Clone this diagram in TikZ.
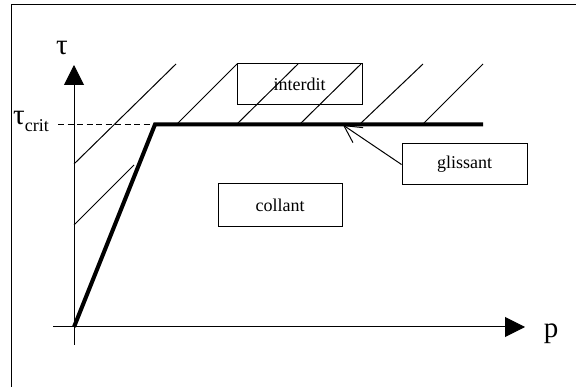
\documentclass[tikz,border=0pt]{standalone}
\usepackage{fontspec}
\setmainfont{Liberation Serif}
\usetikzlibrary{arrows.meta}
\tikzset{
  thin line/.style={line width=1pt},
  label box/.style={draw, line width=1pt, rectangle, inner sep=0pt, font=\fontsize{18}{20}\selectfont},
  axis/.style={line width=1pt, -{Triangle[length=20pt,width=20pt]}},
  big text/.style={font=\fontsize{29}{29}\selectfont, inner sep=0pt},
  law/.style={line width=4pt, line join=miter},
  pointer/.style={line width=1pt, -{Straight Barb[length=17pt,width=18pt,line width=1pt]}}
}
\begin{document}
\begin{tikzpicture}[x=1pt,y=-1pt]
\useasboundingbox (0,0) rectangle (576,387);
% frame (cut at right and bottom)
\draw[thin line] (11,400) -- (11,5) -- (590,5);
% axes
\coordinate (O) at (74,327);
\coordinate (ybot) at (74,345);
\coordinate (ytop) at (74,65);
\coordinate (xleft) at (53,327);
\coordinate (xright) at (525,327);
\draw[axis] (ybot) -- (ytop);
\draw[axis] (xleft) -- (xright);
\node[big text, anchor=base] (tau) at (62,55) {τ};
\node[big text, anchor=base] (p) at (551,338) {p};
% critical stress
\coordinate (K) at (155,124.5);
\coordinate (E) at (483,124.5);
\coordinate (dstart) at (58,124.5);
\node[inner sep=0pt, anchor=base west] (taucrit) at (13,125)
  {{\fontsize{29}{29}\selectfont τ}\raisebox{-7pt}{\fontsize{18}{18}\selectfont crit}};
\draw[thin line, dash pattern=on 6pt off 3.5pt] (dstart) -- (K);
% hatching
\draw[thin line] (74,164) -- (176,64);
\draw[thin line] (74,225) -- (134,165);
\draw[thin line] (177,124) -- (237,64);
\draw[thin line] (237,124) -- (298,64);
\draw[thin line] (300,124) -- (361,64);
\draw[thin line] (360,124) -- (423,64);
\draw[thin line] (423,124) -- (483,64);
% friction law
\draw[law] (O) -- (K) -- (E);
% boxes
\node[label box, minimum width=125pt, minimum height=41pt] (interdit) at (299.5,84.5) {interdit};
\node[label box, minimum width=125pt, minimum height=41pt] (glissant) at (464.5,164.5) {glissant};
\node[label box, minimum width=124pt, minimum height=43pt] (collant) at (280,205.5) {collant};
\coordinate (ptip) at (343,125);
\draw[pointer] (glissant.west) -- (ptip);
\end{tikzpicture}
\end{document}
